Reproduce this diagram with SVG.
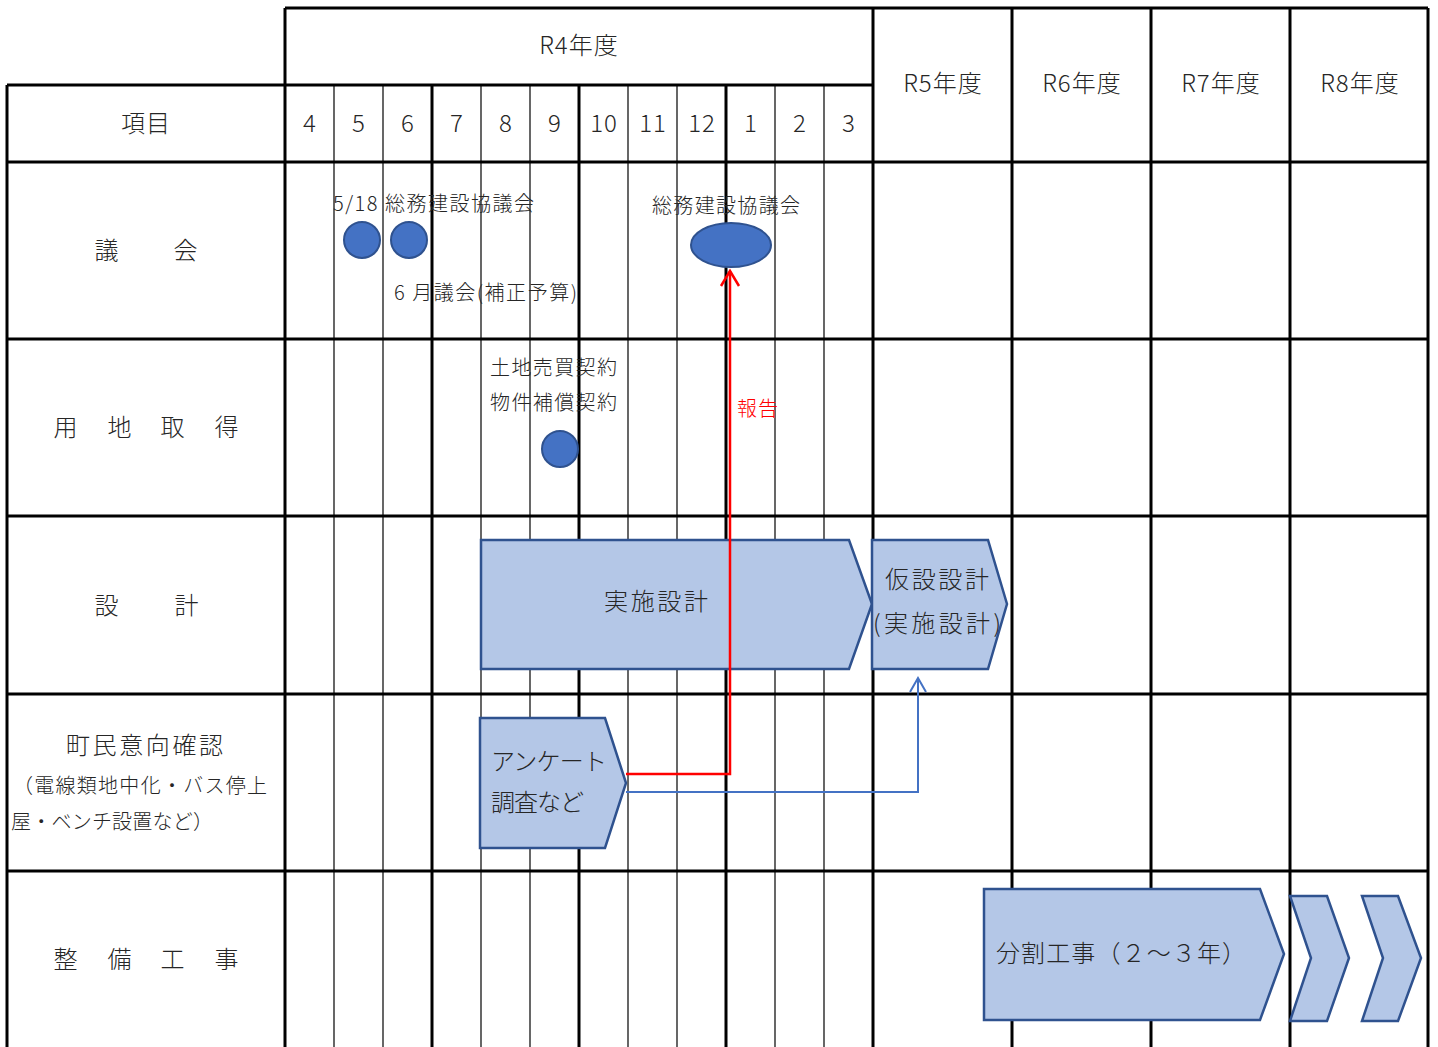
<svg xmlns="http://www.w3.org/2000/svg" width="1438" height="1047" viewBox="0 0 1438 1047">
<style>
text{font-family:"Noto Sans CJK JP","Noto Sans",sans-serif;fill:#262626;font-weight:300}
.b{font-size:24px;letter-spacing:1px}
.s{font-size:20px;letter-spacing:1px}
.m{text-anchor:middle}
.thick{stroke:#000;stroke-width:3;fill:none}
.thin{stroke:#000;stroke-width:1.2;fill:none}
.shape{fill:#B4C7E7;stroke:#2F528F;stroke-width:2.5}
.dot{fill:#4472C4;stroke:#2F528F;stroke-width:2}
</style>
<rect width="1438" height="1047" fill="#fff"/>
<g id="grid">
<g class="thin">
<line x1="334" y1="85" x2="334" y2="1047"/>
<line x1="383" y1="85" x2="383" y2="1047"/>
<line x1="481" y1="85" x2="481" y2="1047"/>
<line x1="530" y1="85" x2="530" y2="1047"/>
<line x1="628" y1="85" x2="628" y2="1047"/>
<line x1="677" y1="85" x2="677" y2="1047"/>
<line x1="775" y1="85" x2="775" y2="1047"/>
<line x1="824" y1="85" x2="824" y2="1047"/>
</g>
<g class="thick">
<line x1="285" y1="8" x2="1428" y2="8"/>
<line x1="7" y1="85" x2="873" y2="85"/>
<line x1="7" y1="162" x2="1428" y2="162"/>
<line x1="7" y1="339" x2="1428" y2="339"/>
<line x1="7" y1="516" x2="1428" y2="516"/>
<line x1="7" y1="694" x2="1428" y2="694"/>
<line x1="7" y1="871" x2="1428" y2="871"/>
<line x1="7" y1="85" x2="7" y2="1047"/>
<line x1="285" y1="8" x2="285" y2="1047"/>
<line x1="432" y1="85" x2="432" y2="1047"/>
<line x1="579" y1="85" x2="579" y2="1047"/>
<line x1="726" y1="85" x2="726" y2="1047"/>
<line x1="873" y1="8" x2="873" y2="1047"/>
<line x1="1012" y1="8" x2="1012" y2="1047"/>
<line x1="1151" y1="8" x2="1151" y2="1047"/>
<line x1="1290" y1="8" x2="1290" y2="1047"/>
<line x1="1428" y1="8" x2="1428" y2="1047"/>
</g>
</g>
<g id="header">
<text class="b m" x="579" y="54">R4年度</text>
<text class="b m" x="146" y="132">項目</text>
<text class="b m" x="310" y="132">4</text>
<text class="b m" x="359" y="132">5</text>
<text class="b m" x="408" y="132">6</text>
<text class="b m" x="457" y="132">7</text>
<text class="b m" x="506" y="132">8</text>
<text class="b m" x="555" y="132">9</text>
<text class="b m" x="604" y="132">10</text>
<text class="b m" x="653" y="132">11</text>
<text class="b m" x="702" y="132">12</text>
<text class="b m" x="751" y="132">1</text>
<text class="b m" x="800" y="132">2</text>
<text class="b m" x="849" y="132">3</text>
<text class="b m" x="943" y="92">R5年度</text>
<text class="b m" x="1082" y="92">R6年度</text>
<text class="b m" x="1221" y="92">R7年度</text>
<text class="b m" x="1360" y="92">R8年度</text>
</g>
<g id="row-labels">
<text class="b m" x="107" y="259">議</text><text class="b m" x="186" y="259">会</text>
<text class="b m" x="66" y="436">用</text><text class="b m" x="120" y="436">地</text><text class="b m" x="173" y="436">取</text><text class="b m" x="227" y="436">得</text>
<text class="b m" x="107" y="614">設</text><text class="b m" x="187" y="614">計</text>
<text class="b" x="66" y="754" textLength="158" lengthAdjust="spacing">町民意向確認</text>
<text class="s" x="13" y="793" textLength="255" lengthAdjust="spacing">（電線類地中化・バス停上</text>
<text class="s" x="11" y="829" textLength="203" lengthAdjust="spacing">屋・ベンチ設置など）</text>
<text class="b m" x="66" y="968">整</text><text class="b m" x="120" y="968">備</text><text class="b m" x="173" y="968">工</text><text class="b m" x="227" y="968">事</text>
</g>
<g id="gikai">
<text class="s" x="333" y="211" textLength="202" lengthAdjust="spacing">5/18 総務建設協議会</text>
<circle class="dot" cx="362" cy="240" r="18"/>
<circle class="dot" cx="409" cy="240" r="18"/>
<text class="s" x="394" y="300" textLength="184" lengthAdjust="spacing">6 月議会(補正予算)</text>
<text class="s" x="652" y="213" textLength="149" lengthAdjust="spacing">総務建設協議会</text>
</g>
<g id="youchi">
<text class="s" x="490" y="375" textLength="128" lengthAdjust="spacing">土地売買契約</text>
<text class="s" x="490" y="410" textLength="128" lengthAdjust="spacing">物件補償契約</text>
<circle class="dot" cx="560" cy="449" r="18"/>
</g>
<g id="sekkei">
<polygon class="shape" points="481,540 849,540 872,604 849,669 481,669"/>
<text class="b" x="604" y="610" textLength="105" lengthAdjust="spacing">実施設計</text>
</g>
<g id="kasetsu">
<polygon class="shape" points="872,540 988,540 1007,604 988,669 872,669"/>
<text class="b" x="885" y="588" textLength="105" lengthAdjust="spacing">仮設設計</text>
<text class="b" x="873" y="632" textLength="129" lengthAdjust="spacing">(実施設計)</text>
</g>
<g id="connectors">
<polyline points="626,774 730,774 730,271" fill="none" stroke="#FF0000" stroke-width="2.5"/>
<polyline points="721,286 730,271 739,286" fill="none" stroke="#FF0000" stroke-width="2.5"/>
<text x="737" y="416" textLength="41" lengthAdjust="spacing" style="font-size:20px;fill:#FF0000">報告</text>
<polyline points="626,792 918,792 918,678" fill="none" stroke="#4472C4" stroke-width="2"/>
<polyline points="910,692 918,678 926,692" fill="none" stroke="#4472C4" stroke-width="2"/>
</g>
<g id="gikai2">
<ellipse class="dot" cx="731" cy="245" rx="40" ry="22"/>
</g>
<g id="enquete">
<polygon class="shape" points="480,718 605,718 626,783 605,848 480,848"/>
<text class="b" x="491" y="770" textLength="117" lengthAdjust="spacing">アンケート</text>
<text class="b" x="491" y="811" textLength="94" lengthAdjust="spacing">調査など</text>
</g>
<g id="kouji">
<polygon class="shape" points="984,889 1260,889 1284,954 1260,1020 984,1020"/>
<text class="b" x="996" y="962" textLength="251" lengthAdjust="spacing">分割工事（２～３年）</text>
</g>
<g id="chevron1">
<polygon class="shape" points="1290,896 1327,896 1349,958 1327,1021 1290,1021 1311,958"/>
</g>
<g id="chevron2">
<polygon class="shape" points="1362,896 1398,896 1421,958 1398,1021 1362,1021 1383,958"/>
</g>
</svg>
